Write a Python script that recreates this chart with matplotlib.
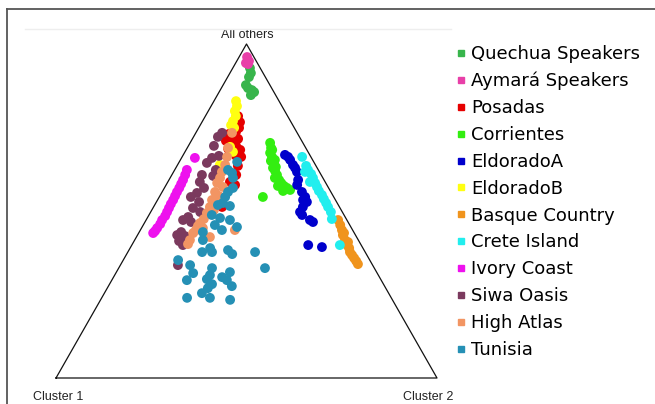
import numpy as np
import matplotlib
matplotlib.use("Agg")
import matplotlib.pyplot as plt
from matplotlib.lines import Line2D

# ancestry proportions per population: "others" and "cluster 2" (cluster 1 is the rest)
populations = ["Quechua Speakers", "Aymará Speakers", "Posadas", "Corrientes", "EldoradoA",
               "EldoradoB", "Basque Country", "Crete Island", "Ivory Coast", "Siwa Oasis",
               "High Atlas", "Tunisia"]

quechua_others = [0.928, 0.913, 0.901, 0.877, 0.868, 0.862, 0.847, 0.856]
quechua_c2 = [0.045, 0.055, 0.056, 0.060, 0.070, 0.083, 0.088, 0.092]

aymara_others = [0.961, 0.949, 0.943, 0.940]
aymara_c2 = [0.021, 0.032, 0.027, 0.034]

posadas_others = [0.784, 0.766, 0.749, 0.737, 0.731, 0.722, 0.716, 0.710, 0.704, 0.695,
                  0.683, 0.686, 0.677, 0.665, 0.662, 0.635, 0.608, 0.587, 0.578, 0.512]
posadas_c2 = [0.086, 0.100, 0.106, 0.104, 0.089, 0.104, 0.120, 0.091, 0.107, 0.125,
              0.142, 0.109, 0.126, 0.140, 0.155, 0.160, 0.169, 0.163, 0.181, 0.180]

corrientes_others = [0.704, 0.689, 0.683, 0.674, 0.662, 0.650, 0.653, 0.644, 0.629, 0.632,
                     0.620, 0.608, 0.599, 0.593, 0.584, 0.575, 0.575, 0.569, 0.560, 0.563, 0.542]
corrientes_c2 = [0.210, 0.220, 0.226, 0.225, 0.236, 0.239, 0.248, 0.250, 0.255, 0.261,
                 0.265, 0.276, 0.275, 0.289, 0.299, 0.295, 0.311, 0.322, 0.316, 0.333, 0.272]

eldoradoA_others = [0.668, 0.653, 0.638, 0.617, 0.593, 0.578, 0.557, 0.542, 0.533, 0.527,
                    0.512, 0.497, 0.488, 0.473, 0.467, 0.398, 0.392, 0.662, 0.629]
eldoradoA_c2 = [0.267, 0.288, 0.303, 0.324, 0.339, 0.344, 0.367, 0.383, 0.382, 0.395,
                0.392, 0.392, 0.402, 0.430, 0.441, 0.463, 0.502, 0.278, 0.313]

eldoradoB_others = [0.829, 0.814, 0.799, 0.784, 0.769, 0.757, 0.749, 0.677, 0.692, 0.638]
eldoradoB_c2 = [0.058, 0.068, 0.070, 0.080, 0.080, 0.081, 0.093, 0.126, 0.111, 0.111]

basque_others = [0.473, 0.458, 0.443, 0.434, 0.428, 0.413, 0.407, 0.398, 0.389, 0.377,
                 0.368, 0.359, 0.350, 0.341]
basque_c2 = [0.504, 0.517, 0.529, 0.539, 0.539, 0.552, 0.563, 0.565, 0.575, 0.583,
             0.593, 0.603, 0.613, 0.622]

crete_others = [0.662, 0.635, 0.623, 0.617, 0.611, 0.599, 0.587, 0.584, 0.572, 0.560,
                0.548, 0.536, 0.524, 0.512, 0.497, 0.476, 0.398]
crete_c2 = [0.315, 0.339, 0.350, 0.345, 0.364, 0.375, 0.373, 0.388, 0.399, 0.410,
            0.424, 0.435, 0.447, 0.458, 0.473, 0.486, 0.546]

ivory_others = [0.659, 0.623, 0.608, 0.593, 0.581, 0.569, 0.557, 0.545, 0.533, 0.521,
                0.509, 0.497, 0.485, 0.473, 0.461, 0.449, 0.440, 0.434]
ivory_c2 = [0.035, 0.032, 0.035, 0.037, 0.038, 0.039, 0.039, 0.040, 0.041, 0.041,
            0.042, 0.043, 0.044, 0.042, 0.043, 0.041, 0.040, 0.038]

siwa_others = [0.734, 0.722, 0.695, 0.659, 0.665, 0.644, 0.623, 0.608, 0.605, 0.587,
               0.569, 0.554, 0.542, 0.527, 0.509, 0.497, 0.482, 0.467, 0.473, 0.437,
               0.428, 0.425, 0.410, 0.413, 0.398, 0.338]
siwa_c2 = [0.069, 0.064, 0.067, 0.080, 0.095, 0.074, 0.108, 0.079, 0.110, 0.084,
           0.104, 0.093, 0.083, 0.112, 0.105, 0.130, 0.106, 0.121, 0.097, 0.110,
           0.104, 0.126, 0.118, 0.140, 0.134, 0.151]

atlas_others = [0.734, 0.689, 0.662, 0.638, 0.617, 0.599, 0.584, 0.572, 0.557, 0.545,
                0.533, 0.512, 0.503, 0.494, 0.476, 0.464, 0.449, 0.443, 0.434, 0.413,
                0.401, 0.422, 0.443, 0.455]
atlas_c2 = [0.095, 0.107, 0.118, 0.125, 0.127, 0.131, 0.131, 0.152, 0.139, 0.155,
            0.143, 0.148, 0.163, 0.149, 0.150, 0.146, 0.161, 0.146, 0.143, 0.145,
            0.146, 0.193, 0.248, 0.145]

tunisia_others = [0.647, 0.623, 0.599, 0.569, 0.542, 0.557, 0.524, 0.515, 0.488, 0.479,
                  0.473, 0.458, 0.452, 0.443, 0.413, 0.437, 0.389, 0.377, 0.377, 0.383,
                  0.371, 0.377, 0.329, 0.353, 0.338, 0.314, 0.293, 0.329, 0.308, 0.296,
                  0.302, 0.317, 0.293, 0.275, 0.281, 0.269, 0.254, 0.240, 0.240, 0.234,
                  0.614, 0.518]
tunisia_c2 = [0.152, 0.140, 0.165, 0.180, 0.173, 0.173, 0.176, 0.199, 0.165, 0.191,
              0.220, 0.188, 0.249, 0.214, 0.179, 0.167, 0.210, 0.195, 0.221, 0.260,
              0.277, 0.334, 0.384, 0.144, 0.183, 0.203, 0.197, 0.245, 0.250, 0.248,
              0.285, 0.298, 0.302, 0.324, 0.269, 0.264, 0.256, 0.224, 0.284, 0.340,
              0.155, 0.166]

others = [quechua_others, aymara_others, posadas_others, corrientes_others, eldoradoA_others,
          eldoradoB_others, basque_others, crete_others, ivory_others, siwa_others,
          atlas_others, tunisia_others]
cluster2 = [quechua_c2, aymara_c2, posadas_c2, corrientes_c2, eldoradoA_c2,
            eldoradoB_c2, basque_c2, crete_c2, ivory_c2, siwa_c2, atlas_c2, tunisia_c2]

colors = ["#38b54c", "#e83fa8", "#e60000", "#33ee11", "#0000cc", "#ffff11",
          "#f0941d", "#22eeee", "#ee11ee", "#7b3a5e", "#f29563", "#2590b5"]


def to_xy(o, c2):
    # triangle corners: cluster 1 (0,0), cluster 2 (1,0), all others (0.5,1)
    o = np.asarray(o)
    c2 = np.asarray(c2)
    return c2 + o / 2, o


fig = plt.figure(figsize=(6.55, 4.04), dpi=100)
ax = fig.add_axes([56 / 655, 26 / 404, 381 / 655, 334 / 404])
ax.set_xlim(0, 1)
ax.set_ylim(0, 1)
ax.axis("off")

# triangle outline
ax.plot([0, 1, 0.5, 0], [0, 0, 1, 0], color="#111111", lw=0.9, clip_on=False)

for o, c2, col in zip(others, cluster2, colors):
    x, y = to_xy(o, c2)
    ax.scatter(x, y, s=50, color=col, edgecolors="none", clip_on=False, zorder=3)

corner_font = dict(family="Liberation Sans", fontsize=9, color="#222222")
ax.text(0.501, 1.027, "All others", ha="center", va="center", **corner_font)
ax.text(0.005, -0.057, "Cluster 1", ha="center", va="center", **corner_font)
ax.text(0.976, -0.057, "Cluster 2", ha="center", va="center", **corner_font)

handles = [Line2D([], [], marker="s", ls="", color=c, markersize=5) for c in colors]
fig.legend(handles, populations, loc="upper left", bbox_to_anchor=(456 / 655, 1 - 45 / 404),
           frameon=False, fontsize=13, handlelength=0.55, handletextpad=0.3,
           labelspacing=0.49, borderpad=0, borderaxespad=0)

# outer frame (top and left edges)
fig.add_artist(Line2D([7 / 655, 7 / 655], [0, 1 - 9 / 404], transform=fig.transFigure,
                      color="#555555", lw=1.3))
fig.add_artist(Line2D([7 / 655, 1], [1 - 9 / 404, 1 - 9 / 404], transform=fig.transFigure,
                      color="#555555", lw=1.3))
fig.add_artist(Line2D([25 / 655, 451 / 655], [1 - 29 / 404, 1 - 29 / 404],
                      transform=fig.transFigure, color="#eeeeee", lw=1))

fig.savefig("out.png", dpi=100)
